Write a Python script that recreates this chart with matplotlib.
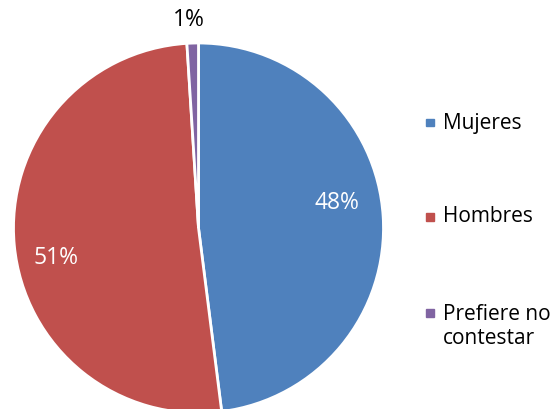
import matplotlib.pyplot as plt
from matplotlib.patches import Rectangle

categories = ['Mujeres', 'Hombres', 'Prefiere no\ncontestar']
values = [48, 51, 1]
colors = ['#4F81BD', '#C0504D', '#8064A2']

plt.rcParams['font.family'] = ['Open Sans', 'DejaVu Sans']

fig = plt.figure(figsize=(5.6, 4.1), dpi=100)
# pie centre ~ (198.5, 229) px, radius ~185 px; bottom is cut by the figure edge
ax = fig.add_axes([13.5 / 560, -4 / 410, 370 / 560, 370 / 410])

wedges, _ = ax.pie(values, colors=colors, startangle=90, counterclock=False,
                   wedgeprops=dict(edgecolor='white', linewidth=2))
ax.set_aspect('equal')
ax.set_xlim(-1, 1)
ax.set_ylim(-1, 1)

# percentage labels (Excel-style placement)
label_pos = [(0.75, 0.14), (-0.77, -0.157), (-0.05, 1.13)]
label_col = ['white', 'white', 'black']
for v, (x, y), c in zip(values, label_pos, label_col):
    ax.text(x, y, f'{v}%', ha='center', va='center', color=c, fontsize=16.5,
            clip_on=False)

# legend drawn manually to match spacing
legend_y = [123, 217, 326.5]
marker_y = [123.5, 218, 314]
for cat, col, y, my in zip(categories, colors, legend_y, marker_y):
    fig.patches.append(Rectangle((426 / 560, 1 - (my + 3.5) / 410), 7.5 / 560, 7.5 / 410,
                                 transform=fig.transFigure, color=col))
    fig.text(443 / 560, 1 - y / 410, cat, ha='left', va='center',
             fontsize=15, linespacing=1.2)

fig.savefig('out.png', dpi=100)
